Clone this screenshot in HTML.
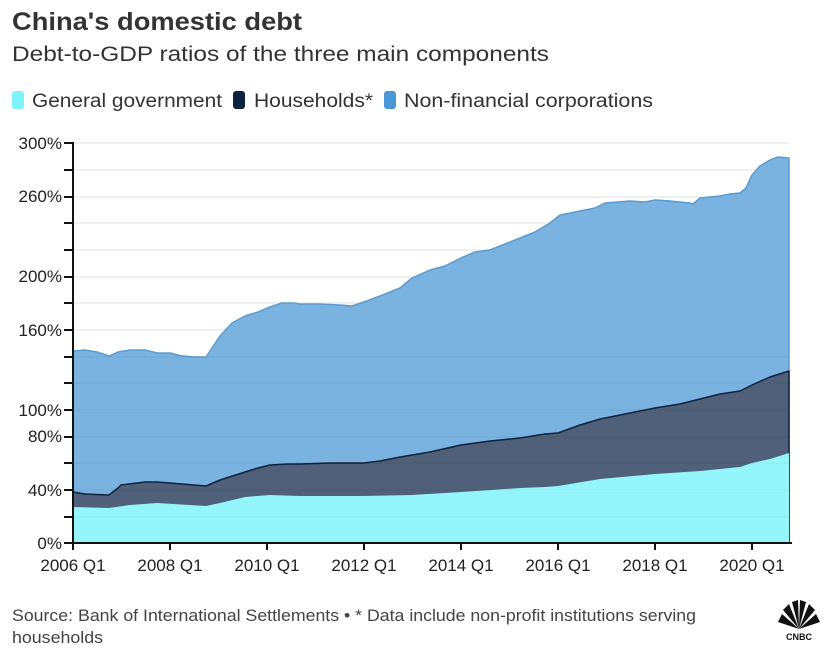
<!DOCTYPE html>
<html><head><meta charset="utf-8"><style>
html,body{margin:0;padding:0;background:#fff;}
svg{display:block;font-family:"Liberation Sans",sans-serif;}
</style></head><body>
<svg width="835" height="656" viewBox="0 0 835 656">
<text x="12" y="30" font-size="25" font-weight="bold" fill="#333" textLength="290" lengthAdjust="spacingAndGlyphs">China's domestic debt</text>
<text x="12" y="61" font-size="21" fill="#333" textLength="537" lengthAdjust="spacingAndGlyphs">Debt-to-GDP ratios of the three main components</text>
<rect x="12" y="91" width="12" height="18" rx="3" fill="#7ff3fb"/>
<text x="32" y="107" font-size="19" fill="#333" textLength="190" lengthAdjust="spacingAndGlyphs">General government</text>
<rect x="233" y="91" width="12" height="18" rx="3" fill="#0d2240"/>
<text x="254" y="107" font-size="19" fill="#333" textLength="119" lengthAdjust="spacingAndGlyphs">Households*</text>
<rect x="384" y="91" width="12" height="18" rx="3" fill="#4a97d6"/>
<text x="404" y="107" font-size="19" fill="#333" textLength="249" lengthAdjust="spacingAndGlyphs">Non-financial corporations</text>

<g stroke="#ebebeb" stroke-width="1.5">
<line x1="73" x2="789" y1="143" y2="143"/><line x1="73" x2="789" y1="170" y2="170"/><line x1="73" x2="789" y1="197" y2="197"/><line x1="73" x2="789" y1="223" y2="223"/><line x1="73" x2="789" y1="250" y2="250"/><line x1="73" x2="789" y1="277" y2="277"/><line x1="73" x2="789" y1="303" y2="303"/><line x1="73" x2="789" y1="330" y2="330"/>
</g>

<path fill="#7ab3e0" stroke="#5c9bd1" stroke-width="1.5" stroke-linejoin="round" d="M73,543 L73,351 85,350 97,352 109,356 118,352 130,350 145,350 157,353 170,353 182,356 194,357 206,357 212,348 220,336 232,323 245,316 258,312 270,307 282,303 294,303 300,304 320,304 340,305 352,306 364,302 380,296 400,288 412,278 430,270 445,266 461,258 475,252 490,250 505,244 520,238 535,232 550,223 560,215 575,212 595,208 605,203 630,201 645,202 655,200 670,201 690,203 693,204 700,198 720,196 730,194 740,193 746,188 752,175 760,166 770,160 778,157 789,158 L789,543 Z"/>
<path fill="#4f6078" stroke="#0d2240" stroke-width="1.5" stroke-linejoin="round" d="M73,543 L73,492 85,494 109,495 118,488 121,485 145,482 157,482 170,483 194,485 206,486 220,480 245,472 258,468 270,465 288,464 300,464 330,463 364,463 380,461 400,457 430,452 461,445 490,441 520,438 545,434 558,433 580,425 600,419 630,413 655,408 680,404 700,399 720,394 740,391 752,385 770,377 789,371 L789,543 Z"/>
<path fill="#94f6fb" d="M73,543 L73,507 109,508 130,505 157,503 206,506 220,503 245,497 270,495 300,496 364,496 412,495 461,492 520,488 545,487 558,486 600,479 655,474 700,471 740,467 752,463 770,459 789,453 L789,543 Z"/>
<g stroke="#000" stroke-opacity="0.05" stroke-width="1">
<line x1="73" x2="789" y1="357" y2="357"/><line x1="73" x2="789" y1="383" y2="383"/><line x1="73" x2="789" y1="410" y2="410"/><line x1="73" x2="789" y1="437" y2="437"/><line x1="73" x2="789" y1="463" y2="463"/><line x1="73" x2="789" y1="490" y2="490"/><line x1="73" x2="789" y1="517" y2="517"/>
</g>

<g stroke="#111" stroke-width="2">
<line x1="73" y1="142" x2="73" y2="544"/>
<line x1="72" y1="543" x2="792" y2="543"/>
</g>
<g stroke="#111" stroke-width="2">
<line x1="64" x2="73" y1="143" y2="143"/><line x1="64" x2="73" y1="170" y2="170"/><line x1="64" x2="73" y1="197" y2="197"/><line x1="64" x2="73" y1="223" y2="223"/><line x1="64" x2="73" y1="250" y2="250"/><line x1="64" x2="73" y1="277" y2="277"/><line x1="64" x2="73" y1="303" y2="303"/><line x1="64" x2="73" y1="330" y2="330"/><line x1="64" x2="73" y1="357" y2="357"/><line x1="64" x2="73" y1="383" y2="383"/><line x1="64" x2="73" y1="410" y2="410"/><line x1="64" x2="73" y1="437" y2="437"/><line x1="64" x2="73" y1="463" y2="463"/><line x1="64" x2="73" y1="490" y2="490"/><line x1="64" x2="73" y1="517" y2="517"/><line x1="64" x2="73" y1="543" y2="543"/>
<line x1="73" x2="73" y1="543" y2="550"/><line x1="170" x2="170" y1="543" y2="550"/><line x1="267" x2="267" y1="543" y2="550"/><line x1="364" x2="364" y1="543" y2="550"/><line x1="461" x2="461" y1="543" y2="550"/><line x1="558" x2="558" y1="543" y2="550"/><line x1="655" x2="655" y1="543" y2="550"/><line x1="752" x2="752" y1="543" y2="550"/>
</g>
<g font-size="17" fill="#222" text-anchor="end">
<text x="62" y="149">300%</text><text x="62" y="202">260%</text><text x="62" y="282">200%</text><text x="62" y="336">160%</text><text x="62" y="416">100%</text><text x="62" y="442">80%</text><text x="62" y="496">40%</text><text x="62" y="549">0%</text>
</g>
<g font-size="17" fill="#222" text-anchor="middle">
<text x="73" y="571">2006 Q1</text><text x="170" y="571">2008 Q1</text><text x="267" y="571">2010 Q1</text><text x="364" y="571">2012 Q1</text><text x="461" y="571">2014 Q1</text><text x="558" y="571">2016 Q1</text><text x="655" y="571">2018 Q1</text><text x="752" y="571">2020 Q1</text>
</g>
<text x="12" y="621" font-size="17" fill="#444" textLength="684" lengthAdjust="spacingAndGlyphs">Source: Bank of International Settlements • * Data include non-profit institutions serving</text>
<text x="12" y="643" font-size="17" fill="#444" textLength="91" lengthAdjust="spacingAndGlyphs">households</text>
<g fill="#111">
<path d="M799,629 L778,622 L782,614 Z"/>
<path d="M799,629 L783,610 L789,604 Z"/>
<path d="M799,629 L792,602 L798,600 Z"/>
<path d="M799,629 L800,600 L806,602 Z"/>
<path d="M799,629 L809,604 L815,610 Z"/>
<path d="M799,629 L816,614 L820,622 Z"/>
</g>
<text x="799" y="640" font-size="9" font-weight="bold" fill="#111" text-anchor="middle">CNBC</text>
</svg>
</body></html>
